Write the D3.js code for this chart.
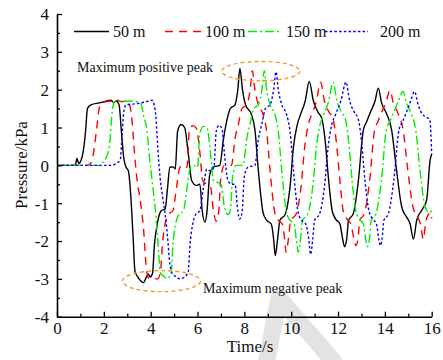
<!DOCTYPE html>
<html>
<head>
<meta charset="utf-8">
<script src="https://cdn.jsdelivr.net/npm/d3@7"></script>
<style>
  body { margin: 0; background: #fff; }
  svg text { font-family: "Liberation Serif", "Times New Roman", serif; fill: #111; }
</style>
</head>
<body>
<div id="chart"></div>
<script>
// ---- data ----
var seriesNames = ["50 m", "100 m", "150 m", "200 m"];

var s50 = [[0,0],[0.78,0],[0.85,0.18],[0.93,0.05],[1.1,0.3],[1.22,0.9],[1.3,1.5],[1.45,1.6],[1.8,1.65],[2.3,1.72],[2.42,1.66],[2.53,1.7],[2.65,1.6],[2.75,0.9],[2.85,0.2],[2.95,-0.05],[3.05,-0.15],[3.15,-0.8],[3.25,-1.9],[3.33,-2.8],[3.45,-2.95],[3.69,-3.1],[3.82,-2.95],[3.9,-2.88],[3.98,-2.95],[4.08,-2.85],[4.16,-2.1],[4.28,-1.55],[4.45,-1.2],[4.62,-1.15],[4.72,-0.6],[4.82,-0.05],[4.97,-0.04],[5.05,-0.1],[5.15,0.9],[5.3,1.08],[5.45,1.0],[5.6,0.35],[5.75,-0.4],[5.95,-0.53],[6.1,-0.5],[6.2,-1.2],[6.32,-1.5],[6.4,-1.25],[6.52,-0.25],[6.68,-0.04],[6.95,0],[7.1,0.66],[7.24,1.15],[7.4,1.5],[7.6,1.6],[7.72,2.0],[7.81,2.56],[7.92,2.0],[8.05,1.6],[8.3,1.35],[8.45,0.95],[8.6,-0.15],[8.8,-1.25],[8.95,-1.45],[9.15,-1.55],[9.25,-1.95],[9.32,-2.38],[9.42,-1.95],[9.52,-1.45],[9.74,-1.3],[9.95,-0.57],[10.1,0.5],[10.25,1.05],[10.4,1.35],[10.6,1.7],[10.77,2.22],[10.95,1.7],[11.15,1.4],[11.3,1.25],[11.45,0.66],[11.6,-0.4],[11.75,-1.2],[11.9,-1.42],[12.08,-1.55],[12.2,-1.95],[12.28,-2.15],[12.37,-1.95],[12.45,-1.45],[12.65,-1.28],[12.87,-0.4],[13.08,0.93],[13.22,1.15],[13.38,1.4],[13.58,1.7],[13.72,2.04],[13.86,1.65],[14.07,1.37],[14.29,0.93],[14.5,-0.13],[14.72,-1.1],[14.93,-1.37],[15.08,-1.55],[15.22,-1.95],[15.36,-1.45],[15.57,-1.19],[15.78,-0.93],[15.93,0.13],[16,0.3]];

var s100 = [[0,0],[1.3,0],[1.42,0.04],[1.55,0.3],[1.68,0.9],[1.8,1.5],[1.9,1.65],[2.3,1.7],[2.6,1.72],[2.75,1.68],[3.0,1.7],[3.1,1.6],[3.2,1.2],[3.3,0.4],[3.42,-0.4],[3.55,-0.9],[3.7,-1.72],[3.8,-2.6],[3.88,-2.95],[4.0,-3.0],[4.3,-3.0],[4.42,-2.8],[4.5,-2.1],[4.6,-1.6],[4.75,-1.3],[4.95,-1.2],[5.1,-0.6],[5.25,-0.05],[5.45,0],[5.55,-0.05],[5.65,0.9],[5.8,1.05],[5.95,0.98],[6.1,0.35],[6.22,-0.4],[6.4,-0.5],[6.55,-0.55],[6.68,-1.2],[6.8,-1.48],[6.9,-1.25],[7.0,-0.3],[7.15,0],[7.45,0],[7.6,0.7],[7.75,1.1],[7.9,1.5],[8.1,1.6],[8.25,2.0],[8.34,2.5],[8.45,2.0],[8.6,1.6],[8.8,1.35],[8.95,0.9],[9.1,-0.15],[9.3,-1.25],[9.45,-1.45],[9.62,-1.55],[9.72,-1.95],[9.78,-2.3],[9.88,-1.95],[9.98,-1.45],[10.2,-1.3],[10.42,-0.57],[10.58,0.5],[10.72,1.05],[10.88,1.35],[11.08,1.7],[11.25,2.2],[11.42,1.7],[11.62,1.4],[11.78,1.25],[11.92,0.66],[12.08,-0.4],[12.22,-1.2],[12.38,-1.42],[12.55,-1.55],[12.68,-1.95],[12.76,-2.12],[12.85,-1.95],[12.93,-1.45],[13.12,-1.28],[13.35,-0.4],[13.56,0.93],[13.7,1.15],[13.86,1.4],[14.06,1.7],[14.22,1.98],[14.36,1.65],[14.56,1.37],[14.78,0.93],[14.98,-0.13],[15.2,-1.1],[15.4,-1.37],[15.52,-1.55],[15.64,-1.95],[15.76,-1.45],[15.95,-1.25],[16,-1.4]];

var s150 = [[0,0],[1.8,0],[1.9,0.05],[2.1,0.2],[2.25,0.6],[2.35,1.37],[2.45,1.68],[2.7,1.7],[3.0,1.7],[3.4,1.68],[3.58,1.63],[3.7,1.3],[3.84,0.93],[3.95,0.2],[4.06,-0.4],[4.24,-1.45],[4.35,-2.4],[4.42,-2.85],[4.6,-2.95],[4.7,-3.0],[4.8,-2.95],[4.88,-2.8],[4.95,-2.1],[5.05,-1.6],[5.2,-1.3],[5.4,-1.2],[5.55,-0.6],[5.7,-0.05],[5.85,0],[6.0,-0.05],[6.1,0.85],[6.25,1.03],[6.4,1.0],[6.55,0.35],[6.68,-0.4],[6.85,-0.45],[7.0,-0.5],[7.15,-1.1],[7.3,-1.3],[7.4,-1.2],[7.5,-0.3],[7.65,0],[7.95,0],[8.1,0.7],[8.25,1.1],[8.4,1.5],[8.6,1.6],[8.75,2.0],[8.85,2.5],[8.95,2.0],[9.1,1.6],[9.3,1.35],[9.45,0.9],[9.6,-0.15],[9.8,-1.25],[9.95,-1.45],[10.12,-1.55],[10.22,-1.95],[10.3,-2.3],[10.4,-1.95],[10.48,-1.45],[10.7,-1.3],[10.92,-0.57],[11.08,0.5],[11.22,1.05],[11.4,1.35],[11.6,1.7],[11.79,2.2],[11.95,1.7],[12.15,1.4],[12.3,1.25],[12.45,0.66],[12.6,-0.4],[12.76,-1.2],[12.92,-1.42],[13.08,-1.55],[13.18,-1.95],[13.25,-2.15],[13.34,-1.95],[13.42,-1.45],[13.62,-1.28],[13.85,-0.4],[14.06,0.93],[14.2,1.15],[14.38,1.4],[14.58,1.7],[14.78,1.95],[14.92,1.65],[15.12,1.37],[15.32,0.93],[15.5,-0.13],[15.72,-1.1],[15.9,-1.25],[16,-1.2]];

var s200 = [[0,0],[2.3,0],[2.5,0.04],[2.7,0.15],[2.78,0.8],[2.85,1.4],[2.95,1.6],[3.4,1.63],[3.8,1.68],[4.06,1.72],[4.15,1.6],[4.22,1.3],[4.3,0.5],[4.4,-0.3],[4.5,-0.8],[4.62,-1.3],[4.72,-1.9],[4.82,-2.6],[4.92,-2.85],[5.1,-2.95],[5.25,-3.0],[5.45,-2.95],[5.6,-2.82],[5.68,-2.1],[5.78,-1.6],[5.92,-1.3],[6.1,-1.2],[6.25,-0.6],[6.4,-0.1],[6.55,-0.15],[6.7,-0.05],[6.8,0.9],[6.92,1.06],[7.05,0.95],[7.15,0.3],[7.3,-0.4],[7.45,-0.5],[7.6,-0.5],[7.72,-1.2],[7.8,-1.42],[7.9,-1.25],[8.0,-0.3],[8.15,-0.05],[8.45,0],[8.6,0.7],[8.75,1.1],[8.9,1.5],[9.1,1.6],[9.25,2.0],[9.35,2.47],[9.45,2.0],[9.6,1.6],[9.8,1.35],[9.95,0.9],[10.1,-0.15],[10.3,-1.25],[10.45,-1.45],[10.62,-1.55],[10.75,-1.95],[10.83,-2.35],[10.92,-1.95],[11.0,-1.45],[11.2,-1.3],[11.42,-0.57],[11.58,0.5],[11.72,1.05],[11.9,1.35],[12.12,1.7],[12.34,2.2],[12.5,1.7],[12.7,1.4],[12.85,1.25],[13.0,0.66],[13.15,-0.4],[13.32,-1.2],[13.48,-1.42],[13.64,-1.55],[13.74,-1.95],[13.8,-2.12],[13.88,-1.95],[13.96,-1.45],[14.15,-1.28],[14.38,-0.4],[14.6,0.93],[14.75,1.15],[14.92,1.4],[15.1,1.7],[15.27,1.95],[15.42,1.6],[15.6,1.35],[15.75,1.28],[15.92,1.2],[16,0.3]];

var xTicks = [0, 2, 4, 6, 8, 10, 12, 14, 16];
var yTicks = [-4, -3, -2, -1, 0, 1, 2, 3, 4];
var notes = ["Maximum positive peak", "Maximum negative peak"];

// ---- layout ----
var width = 443, height = 360;
var padL = 57, padR = 431.7, padT = 14, padB = 316.7;

var svg = d3.select('#chart').append('svg')
    .attr('width', width)
    .attr('height', height);

// faint watermark behind the plot
svg.append('path')
    .attr('d', 'M266,364 L279,298 L336,364')
    .attr('fill', 'none')
    .attr('stroke', '#e3e3e3')
    .attr('stroke-width', 17)
    .attr('stroke-linejoin', 'round');

var x = d3.scaleLinear().domain([0, 16]).range([padL, padR]);
var y = d3.scaleLinear().domain([-4, 4]).range([padB, padT]);

var styles = [
    { color: '#000000', dash: null },
    { color: '#ff0000', dash: '8,6' },
    { color: '#00ee00', dash: '9,3,2,3' },
    { color: '#0000ff', dash: '2.5,2.2' }
];

var line = d3.line()
    .x(function(d) { return x(d[0]); })
    .y(function(d) { return y(d[1]); })
    .curve(d3.curveMonotoneX);

var all = [s50, s100, s150, s200];
svg.selectAll('path.series')
    .data(all)
    .enter().append('path')
    .attr('class', 'series')
    .attr('d', line)
    .attr('fill', 'none')
    .attr('stroke', function(d, i) { return styles[i].color; })
    .attr('stroke-dasharray', function(d, i) { return styles[i].dash; })
    .attr('stroke-width', 1.4);

// ---- axes ----
var xAxis = svg.append('g').attr('transform', 'translate(0,' + padB + ')')
    .call(d3.axisBottom(x).tickValues(d3.range(0, 17, 1)).tickSize(0).tickFormat(''));
xAxis.select('.domain').attr('stroke', '#000').attr('stroke-width', 1.6);
xAxis.selectAll('.tick line')
    .attr('y2', function(d) { return d % 2 === 0 ? -5 : -3; })
    .attr('stroke-width', 1.3);
xAxis.selectAll('.tick')
    .filter(function(d) { return xTicks.indexOf(d) >= 0; })
    .append('text')
    .attr('y', 17)
    .attr('text-anchor', 'middle')
    .style('font-size', '17px')
    .text(function(d) { return d; });

var yAxis = svg.append('g').attr('transform', 'translate(' + padL + ',0)')
    .call(d3.axisLeft(y).tickValues(d3.range(-4, 4.01, 0.5)).tickSize(0).tickFormat(''));
yAxis.select('.domain').attr('stroke', '#000').attr('stroke-width', 1.6);
yAxis.selectAll('.tick line')
    .attr('x2', function(d) { return Number.isInteger(d) ? 5 : 3; })
    .attr('stroke-width', 1.3);
yAxis.selectAll('.tick')
    .filter(function(d) { return yTicks.indexOf(d) >= 0; })
    .append('text')
    .attr('x', -8)
    .attr('dy', '0.35em')
    .attr('text-anchor', 'end')
    .style('font-size', '17px')
    .text(function(d) { return d; });

svg.append('text')
    .attr('x', 250).attr('y', 352)
    .attr('text-anchor', 'middle')
    .style('font-size', '17px')
    .text('Time/s');

svg.append('text')
    .attr('transform', 'translate(27,165) rotate(-90)')
    .attr('text-anchor', 'middle')
    .style('font-size', '17px')
    .text('Pressure/kPa');

// ---- legend ----
var legendPos = [
    { x1: 74, x2: 109, tx: 113 },
    { x1: 165, x2: 201, tx: 205 },
    { x1: 248, x2: 279, tx: 286 },
    { x1: 325, x2: 368, tx: 380 }
];
var legend = svg.selectAll('g.legend')
    .data(seriesNames)
    .enter().append('g')
    .attr('class', 'legend');
legend.append('line')
    .attr('x1', function(d, i) { return legendPos[i].x1; })
    .attr('x2', function(d, i) { return legendPos[i].x2; })
    .attr('y1', 31.5).attr('y2', 31.5)
    .attr('stroke', function(d, i) { return styles[i].color; })
    .attr('stroke-dasharray', function(d, i) { return styles[i].dash; })
    .attr('stroke-width', 1.6);
legend.append('text')
    .attr('x', function(d, i) { return legendPos[i].tx; })
    .attr('y', 37)
    .style('font-size', '16px')
    .text(function(d) { return d; });

// ---- annotations ----
svg.append('ellipse')
    .attr('cx', x(8.7)).attr('cy', y(2.49))
    .attr('rx', 39).attr('ry', 9.7)
    .attr('fill', 'none').attr('stroke', '#f39a2e')
    .attr('stroke-width', 1.4).attr('stroke-dasharray', '4,3');
svg.append('text')
    .attr('x', 77).attr('y', 72)
    .style('font-size', '14px')
    .text(notes[0]);

svg.append('ellipse')
    .attr('cx', x(4.46)).attr('cy', y(-3.06))
    .attr('rx', 39).attr('ry', 10.5)
    .attr('fill', 'none').attr('stroke', '#f39a2e')
    .attr('stroke-width', 1.4).attr('stroke-dasharray', '4,3');
svg.append('text')
    .attr('x', 203).attr('y', 293)
    .style('font-size', '14px')
    .text(notes[1]);
</script>
</body>
</html>
